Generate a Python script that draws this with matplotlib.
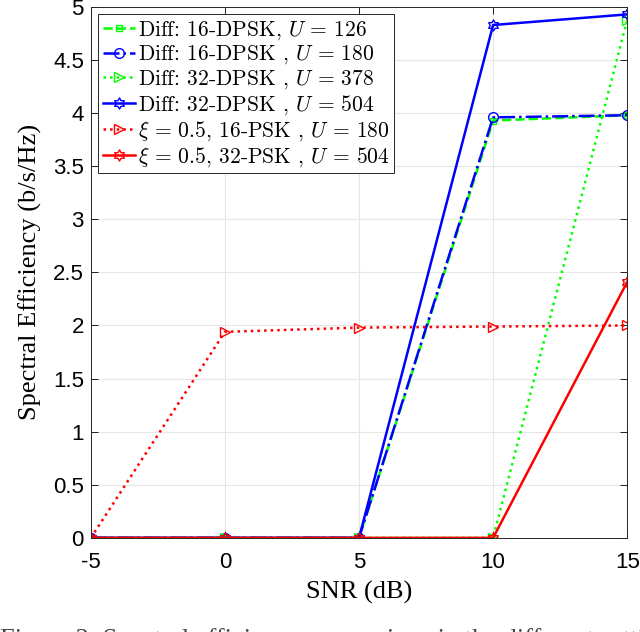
import numpy as np
import matplotlib
matplotlib.use("Agg")
import matplotlib.pyplot as plt
from matplotlib.path import Path

snr = [-5, 0, 5, 10, 15]
se_16dpsk_126 = [0, 0, 0, 3.93, 3.98]
se_16dpsk_180 = [0, 0, 0, 3.96, 3.98]
se_32dpsk_378 = [0, 0, 0, 0, 4.88]
se_32dpsk_504 = [0, 0, 0, 4.83, 4.93]
se_16psk_180 = [0, 1.94, 1.98, 1.99, 2.0]
se_32psk_504 = [0, 0, 0, 0, 2.41]

labels = [
    r'Diff: 16-DPSK, $U\,=\,126$',
    r'Diff: 16-DPSK , $U\,=\,180$',
    r'Diff: 32-DPSK , $U\,=\,378$',
    r'Diff: 32-DPSK , $U\,=\,504$',
    r'$\xi\,=\,0.5$, 16-PSK , $U\,=\,180$',
    r'$\xi\,=\,0.5$, 32-PSK , $U\,=\,504$',
]

plt.rcParams['mathtext.fontset'] = 'cm'
plt.rcParams['axes.unicode_minus'] = False

# six-pointed star marker like MATLAB's hexagram
ang = np.deg2rad(90 + 30 * np.arange(12))
rad = np.where(np.arange(12) % 2 == 0, 1.0, 0.577)
verts = np.column_stack([rad * np.cos(ang), rad * np.sin(ang)])
verts = np.vstack([verts, verts[:1]])
hexagram = Path(verts, closed=True)

fig = plt.figure(figsize=(6.4, 6.32), dpi=100)
ax = fig.add_axes([0.142, 0.149, 0.838, 0.840])

ax.plot(snr, se_16dpsk_126, color='#00ff00', ls='--', marker='s', ms=5, mfc='none', lw=1.8, label=labels[0])
ax.plot(snr, se_16dpsk_180, color='#0000ff', ls='-.', marker='o', ms=7, mfc='none', lw=1.8, label=labels[1])
ax.plot(snr, se_32dpsk_378, color='#00ff00', ls=':', marker='>', ms=7, mfc='none', lw=1.8, label=labels[2])
ax.plot(snr, se_32dpsk_504, color='#0000ff', ls='-', marker=hexagram, ms=8, mfc='none', lw=1.8, label=labels[3])
ax.plot(snr, se_16psk_180, color='#ff0000', ls=':', marker='>', ms=7, mfc='none', lw=1.8, label=labels[4])
ax.plot(snr, se_32psk_504, color='#ff0000', ls='-', marker=hexagram, ms=8, mfc='none', lw=1.8, label=labels[5])

ax.set_xlim(-5, 15)
ax.set_ylim(0, 5)
ax.set_xticks([-5, 0, 5, 10, 15])
ax.set_yticks([0, 0.5, 1, 1.5, 2, 2.5, 3, 3.5, 4, 4.5, 5])
ax.set_yticklabels(['0', '0.5', '1', '1.5', '2', '2.5', '3', '3.5', '4', '4.5', '5'])
ax.tick_params(direction='in', top=True, right=True, labelsize=16, length=5, width=0.6)
ax.tick_params(axis='x', pad=10)
ax.tick_params(axis='y', pad=5)
for lab in ax.get_xticklabels() + ax.get_yticklabels():
    lab.set_family('Liberation Sans')
ax.grid(True, color='#e6e6e6', lw=0.8)
ax.set_axisbelow(True)
for s in ax.spines.values():
    s.set_color('#262626')
    s.set_linewidth(0.7)

ax.set_xlabel('SNR (dB)', fontfamily='Liberation Serif', fontsize=19, labelpad=6)
ax.set_ylabel('Spectral Efficiency (b/s/Hz)', fontfamily='Liberation Serif', fontsize=19, labelpad=8)

leg = ax.legend(loc='upper left', prop={'family': 'cmr10', 'size': 15.5},
                fancybox=False, edgecolor='#262626', framealpha=1, handlelength=1.5,
                handletextpad=0.15, borderpad=0.2, labelspacing=0.1, borderaxespad=0.35)
leg.get_frame().set_linewidth(0.7)

fig.text(0.0, -0.012, 'Figure 3: Spectral efficiency comparison in the different settings',
         fontfamily='Liberation Serif', fontsize=19, color='#444444', va='center')

fig.savefig('out.png', dpi=100)
